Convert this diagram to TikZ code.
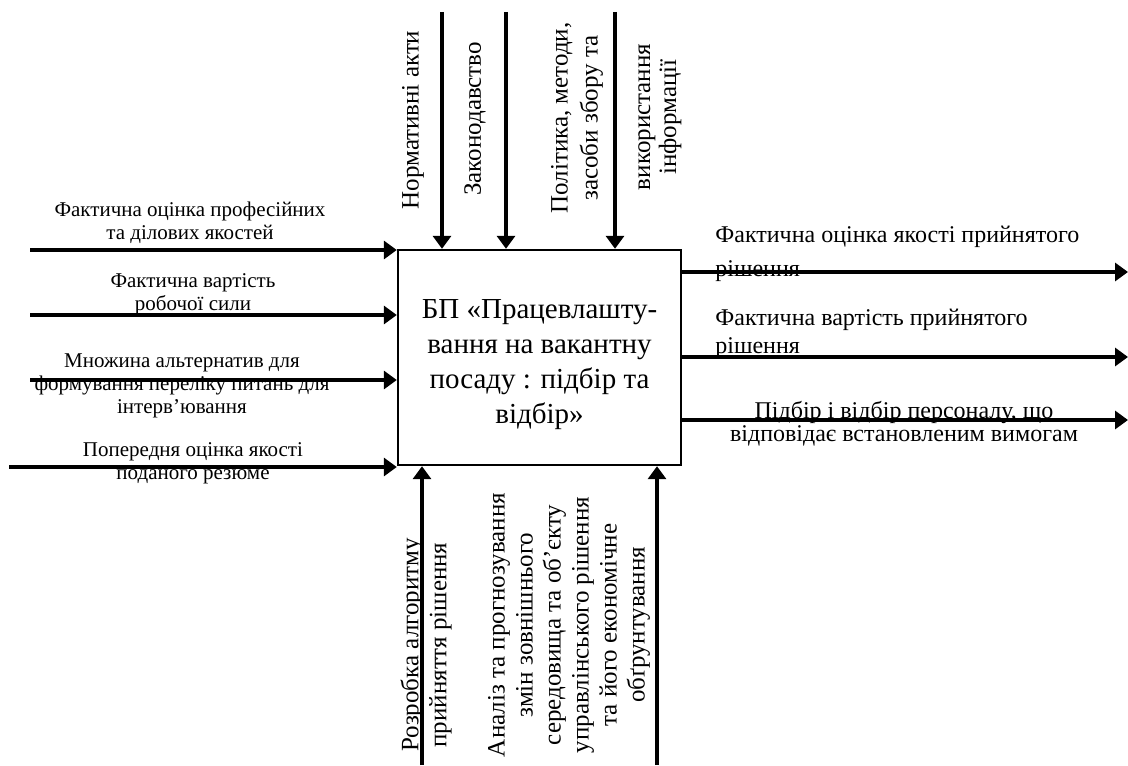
\documentclass[tikz,border=0pt]{standalone}
\usepackage{fontspec}
\setmainfont{Liberation Serif}
\usetikzlibrary{calc, arrows.meta}
\def\lw{1.8pt}

\begin{document}
\begin{tikzpicture}[x=0.5pt, y=-0.5pt,
    >={Triangle[length=6.5pt, width=9pt]},
    flow/.style={line width=\lw, ->},
    lbl/.style={font=\fontsize{10.5}{11.5}\selectfont, align=center, inner sep=0pt},
    rlbl/.style={lbl, font=\fontsize{12}{12}\selectfont},
    vlbl/.style={lbl, rotate=90, font=\fontsize{12.5}{13.5}\selectfont}]
    \useasboundingbox (0,0) rectangle (1128,765);

    \node [draw, line width=1.2pt, minimum width=141.5pt, minimum height=107.5pt, inner sep=0pt] (bp) at (539.5,357.5) {};
    \node [align=center, inner sep=0pt, font=\fontsize{14.5}{17.5}\selectfont] (bptitle) at ($(bp.center)+(0,7)$)
        {БП «Працевлашту-\\вання на вакантну\\посаду : підбір та\\відбір»};

    \coordinate (t1) at (442,12);
    \coordinate (t2) at (506,12);
    \coordinate (t3) at (615,12);
    \coordinate (l1) at (30,250);
    \coordinate (l2) at (30,315);
    \coordinate (l3) at (30,380);
    \coordinate (l4) at (9,467);
    \coordinate (r1) at (1128,272);
    \coordinate (r2) at (1128,357);
    \coordinate (r3) at (1128,420);
    \coordinate (b1) at (422,765);
    \coordinate (b2) at (657,765);

    \draw [flow] (t1) -- (t1 |- bp.north);
    \draw [flow] (t2) -- (t2 |- bp.north);
    \draw [flow] (t3) -- (t3 |- bp.north);
    \draw [flow] (l1) -- (l1 -| bp.west);
    \draw [flow] (l2) -- (l2 -| bp.west);
    \draw [flow] (l3) -- (l3 -| bp.west);
    \draw [flow] (l4) -- (l4 -| bp.west);
    \draw [flow] (r1 -| bp.east) -- (r1);
    \draw [flow] (r2 -| bp.east) -- (r2);
    \draw [flow] (r3 -| bp.east) -- (r3);
    \draw [flow] (b1) -- (b1 |- bp.south);
    \draw [flow] (b2) -- (b2 |- bp.south);

    \node [vlbl] (normy) at (413,120) {Нормативні акти};
    \node [vlbl] (zakon) at (475,119) {Законодавство};
    \node [vlbl] (polit) at (577,118) {Політика, методи,\\[1.5pt] засоби збору та};
    \node [vlbl] (vykor) at (660,117) {використання\\[-0.5pt] інформації};

    \node [lbl] (fakt) at (190,222.5) {Фактична оцінка професійних\\та ділових якостей};
    \node [lbl] (vart) at (193,294) {Фактична вартість\\робочої сили};
    \node [lbl] (mnozh) at (182,386) {Множина альтернатив для\\формування переліку питань для\\інтерв'ювання};
    \node [lbl] (poper) at (193,463.5) {Попередня оцінка якості\\поданого резюме};

    \node [rlbl, align=left, anchor=west] (yakist) at (715,254) {Фактична оцінка якості прийнятого\\[5pt] рішення};
    \node [rlbl, align=left, anchor=west] (vartrish) at (715,334) {Фактична вартість прийнятого\\[2pt] рішення};
    \node [rlbl] (pidbir) at (904,423.5) {Підбір і відбір персоналу, що\\[-0.5pt] відповідає встановленим вимогам};

    \node [vlbl] (algo) at (426,645) {Розробка алгоритму\\[0.5pt] прийняття рішення};
    \node [vlbl] (analiz) at (569,625) {Аналіз та прогнозування\\[0.5pt] змін зовнішнього\\[0.5pt] середовища та об'єкту\\[0.5pt] управлінського рішення\\[0.5pt] та його економічне\\[0.5pt] обґрунтування};
\end{tikzpicture}
\end{document}
